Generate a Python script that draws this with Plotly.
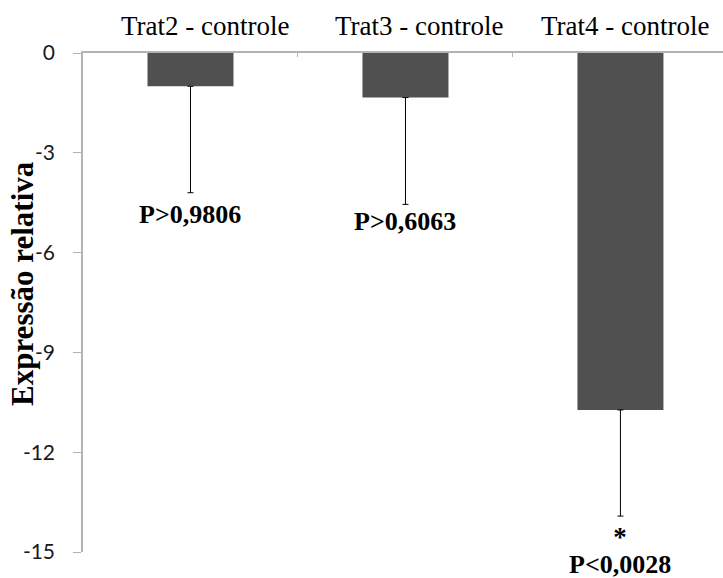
import plotly.graph_objects as go

categories = ["Trat2 - controle", "Trat3 - controle", "Trat4 - controle"]
values = [-1.0, -1.34, -10.73]
errors_minus = [3.2, 3.21, 3.19]
p_labels = ["P>0,9806", "P>0,6063", "P<0,0028"]
star_labels = ["", "", "*"]
p_label_y = [-4.84, -5.08, -15.0]
y_ticks = [0, -3, -6, -9, -12, -15]

Y_MIN, Y_MAX = -15, 0
PLOT_L, PLOT_T, PLOT_B = 83, 53, 26
W, H = 723, 578
plot_h = H - PLOT_T - PLOT_B
plot_w = W - PLOT_L


def to_paper_y(v):
    return (v - Y_MIN) / (Y_MAX - Y_MIN)


fig = go.Figure()
fig.add_trace(go.Bar(
    x=categories, y=values,
    marker=dict(color="#505050", line=dict(width=0)),
    width=0.4,
    error_y=dict(type="data", symmetric=False, array=[0] * len(values),
                 arrayminus=errors_minus, color="#000000", thickness=1, width=3),
    showlegend=False,
))

serif = "Liberation Serif, Times New Roman, serif"
for c, t, s, yy in zip(categories, p_labels, star_labels, p_label_y):
    if s:
        txt = ("<span style='font-size:27px'><b>%s</b></span><br>"
               "<span style='font-size:26px'><b>%s</b></span>") % (s, t)
        fig.add_annotation(x=c, y=to_paper_y(yy), xref="x", yref="paper", text=txt,
                           showarrow=False, font=dict(family=serif, size=21, color="#000"),
                           yanchor="middle", xanchor="center", yshift=2)
    else:
        fig.add_annotation(x=c, y=to_paper_y(yy), xref="x", yref="paper", text="<b>%s</b>" % t,
                           showarrow=False, font=dict(family=serif, size=26, color="#000"),
                           yanchor="middle", xanchor="center")

# category labels (offset slightly right of bar centres, as in the reference)
label_shift = [15, 14, 5]
for c, s in zip(categories, label_shift):
    fig.add_annotation(x=c, y=1 + (PLOT_T - 26) / plot_h, xref="x", yref="paper", text=c,
                       showarrow=False, font=dict(family=serif, size=27, color="#000"),
                       xanchor="center", yanchor="middle", xshift=s)

fig.add_annotation(x=(22 - PLOT_L) / plot_w, y=(H - PLOT_B - 284) / plot_h,
                   xref="paper", yref="paper", text="<b>Expressão relativa</b>",
                   textangle=-90, showarrow=False,
                   font=dict(family=serif, size=31, color="#000"),
                   xanchor="center", yanchor="middle")

fig.update_layout(
    width=W, height=H,
    margin=dict(l=PLOT_L, r=0, t=PLOT_T, b=PLOT_B),
    plot_bgcolor="white", paper_bgcolor="white",
    bargap=0.6,
    xaxis=dict(side="top", type="category", range=[-0.5, 2.477],
               showline=True, linecolor="#b3b3b3", linewidth=1.5,
               ticks="inside", tickson="boundaries", ticklen=4, tickcolor="#b3b3b3",
               showticklabels=False,
               showgrid=False, zeroline=False),
    yaxis=dict(range=[Y_MIN, Y_MAX], tickvals=y_ticks, ticktext=[str(v) for v in y_ticks],
               showline=True, linecolor="#b3b3b3", linewidth=1.5,
               ticks="outside", ticklen=8, tickcolor="#b3b3b3",
               tickfont=dict(family="Lato, Open Sans, sans-serif", size=21, color="#1a1a1a"),
               showgrid=False, zeroline=False, ticklabelstandoff=14),
)

fig.write_html("out.html")
